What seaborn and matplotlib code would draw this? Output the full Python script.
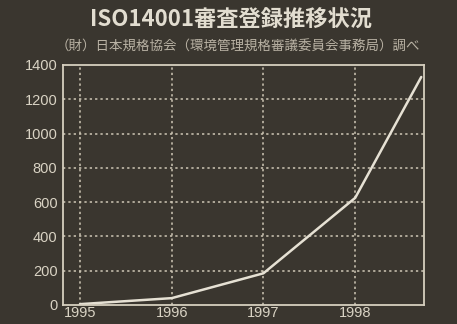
import matplotlib
matplotlib.use("Agg")
import matplotlib.pyplot as plt
import seaborn as sns
import pandas as pd

years = [1995.0, 1996.0, 1997.0, 1998.0, 1998.72]
registrations = [5, 40, 185, 625, 1330]
x_ticks = [1995, 1996, 1997, 1998]
y_ticks = [0, 200, 400, 600, 800, 1000, 1200, 1400]
title = "ISO14001審査登録推移状況"
subtitle = "（財）日本規格協会（環境管理規格審議委員会事務局）調べ"

sns.set_theme(style="dark")
plt.rcParams['font.family'] = ['Noto Sans CJK JP', 'DejaVu Sans']

bg = "#3a362f"
fg = "#d9d3c4"

fig = plt.figure(figsize=(4.57, 3.24), dpi=100, facecolor=bg)
ax = fig.add_axes([63/457, 19/324, 361/457, 240/324])
ax.set_facecolor(bg)

df = pd.DataFrame({"year": years, "count": registrations})
sns.lineplot(data=df, x="year", y="count", ax=ax, color="#e6e1d4", linewidth=1.8)

ax.set_xlim(1994.815, 1998.75)
ax.set_ylim(0, 1400)
ax.set_xticks(x_ticks)
ax.set_xticklabels([str(v) for v in x_ticks])
ax.set_yticks(y_ticks)
ax.set_xlabel("")
ax.set_ylabel("")
ax.tick_params(axis="both", length=0, colors=fg, labelsize=10.5, pad=4)
ax.tick_params(axis="x", pad=1)
for lab in ax.get_xticklabels() + ax.get_yticklabels():
    lab.set_family(['Liberation Sans', 'DejaVu Sans'])

for v in x_ticks:
    ax.axvline(v, color="#cfc8b6", linestyle=(0, (1.5, 2)), linewidth=1.1, zorder=1)
for v in y_ticks[1:-1]:
    ax.axhline(v, color="#cfc8b6", linestyle=(0, (1.5, 2)), linewidth=1.1, zorder=1)
ax.grid(False)

for s in ax.spines.values():
    s.set_visible(True)
    s.set_color("#d6cfbf")
    s.set_linewidth(1.3)

fig.text(0.505, 0.938, title, ha="center", va="center", color="#e2ddd0",
         fontsize=16, fontweight="bold")
fig.text(0.520, 0.857, subtitle, ha="center", va="center", color="#b9b2a4",
         fontsize=9.7)

fig.savefig("out.png", dpi=100, facecolor=bg)
